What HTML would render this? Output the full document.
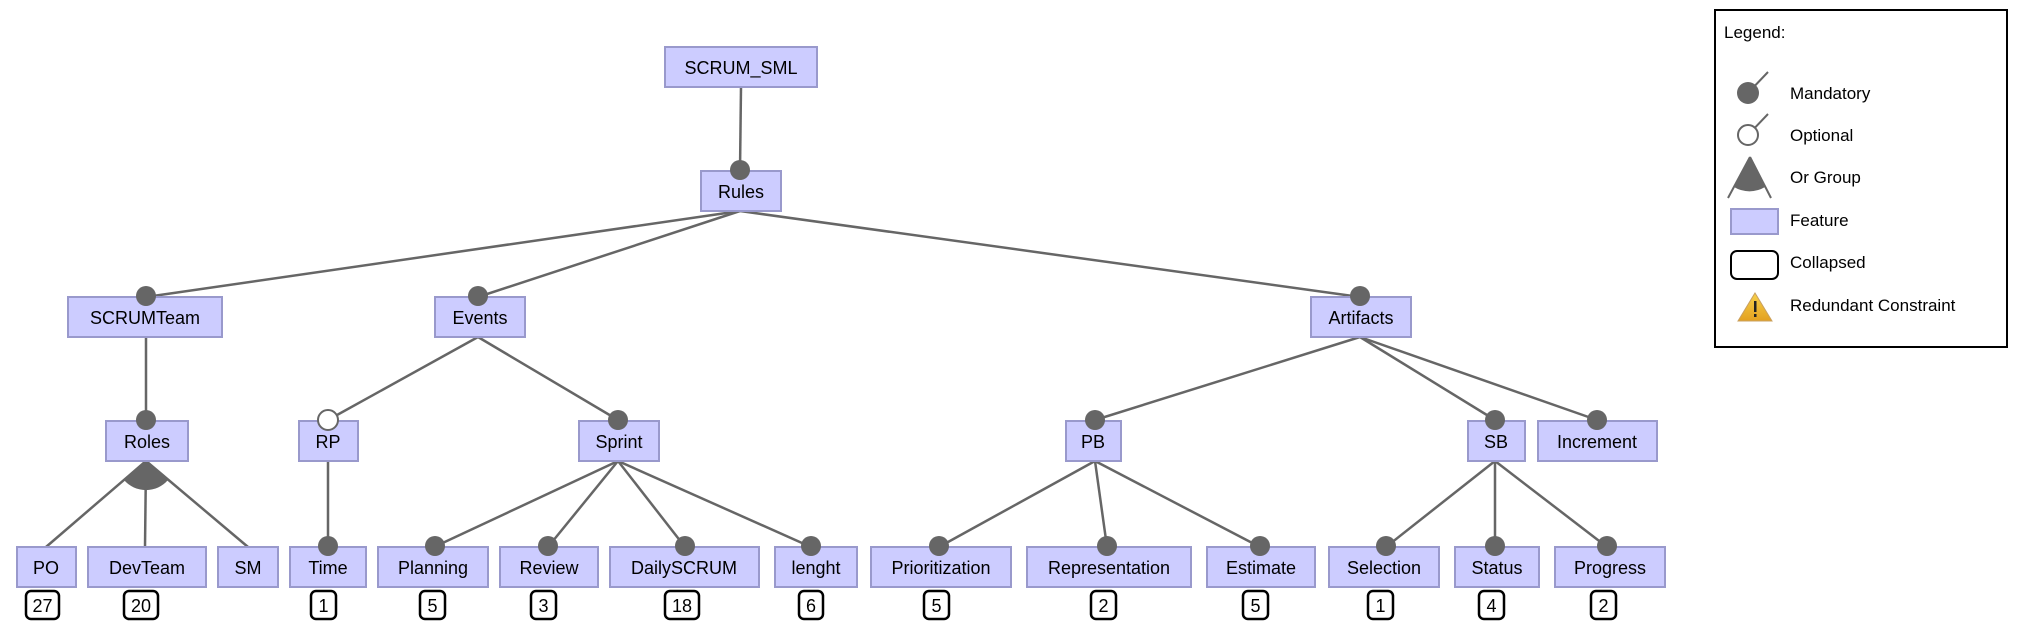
<!DOCTYPE html>
<html><head><meta charset="utf-8"><style>
html,body{margin:0;padding:0;background:#fff;}
svg{display:block;}
text{font-family:"Liberation Sans",Arial,sans-serif;fill:#000;}
</style></head><body>
<svg width="2022" height="638" viewBox="0 0 2022 638" xmlns="http://www.w3.org/2000/svg">
<g stroke="#666" stroke-width="2.5" fill="none">
<line x1="741" y1="87" x2="740" y2="171"/>
<line x1="740" y1="211" x2="146" y2="297"/>
<line x1="740" y1="211" x2="478" y2="297"/>
<line x1="740" y1="211" x2="1360" y2="297"/>
<line x1="146" y1="337" x2="146" y2="420"/>
<line x1="478" y1="337" x2="328" y2="420"/>
<line x1="478" y1="337" x2="618" y2="420"/>
<line x1="1360" y1="337" x2="1095" y2="420"/>
<line x1="1360" y1="337" x2="1495" y2="420"/>
<line x1="1360" y1="337" x2="1597" y2="420"/>
<line x1="146" y1="461" x2="46" y2="547"/>
<line x1="146" y1="461" x2="145" y2="547"/>
<line x1="146" y1="461" x2="248" y2="547"/>
<line x1="328" y1="461" x2="328" y2="547"/>
<line x1="618" y1="461" x2="434" y2="547"/>
<line x1="618" y1="461" x2="548" y2="547"/>
<line x1="618" y1="461" x2="685" y2="547"/>
<line x1="618" y1="461" x2="811" y2="547"/>
<line x1="1095" y1="461" x2="939" y2="547"/>
<line x1="1095" y1="461" x2="1107" y2="547"/>
<line x1="1095" y1="461" x2="1260" y2="547"/>
<line x1="1495" y1="461" x2="1386" y2="547"/>
<line x1="1495" y1="461" x2="1495" y2="547"/>
<line x1="1495" y1="461" x2="1607" y2="547"/>
</g>
<path d="M146,461 L124,480 A29,29 0 0 0 168,480 Z" fill="#666"/>
<g fill="#ccccff" stroke="#9999cc" stroke-width="2">
<rect x="665" y="47" width="152" height="40"/>
<rect x="701" y="171" width="80" height="40"/>
<rect x="68" y="297" width="154" height="40"/>
<rect x="435" y="297" width="90" height="40"/>
<rect x="1311" y="297" width="100" height="40"/>
<rect x="106" y="421" width="82" height="40"/>
<rect x="299" y="421" width="59" height="40"/>
<rect x="579" y="421" width="80" height="40"/>
<rect x="1066" y="421" width="55" height="40"/>
<rect x="1468" y="421" width="57" height="40"/>
<rect x="1538" y="421" width="119" height="40"/>
<rect x="17" y="547" width="59" height="40"/>
<rect x="88" y="547" width="118" height="40"/>
<rect x="218" y="547" width="60" height="40"/>
<rect x="290" y="547" width="76" height="40"/>
<rect x="378" y="547" width="110" height="40"/>
<rect x="500" y="547" width="98" height="40"/>
<rect x="610" y="547" width="149" height="40"/>
<rect x="775" y="547" width="82" height="40"/>
<rect x="871" y="547" width="140" height="40"/>
<rect x="1027" y="547" width="164" height="40"/>
<rect x="1207" y="547" width="108" height="40"/>
<rect x="1329" y="547" width="110" height="40"/>
<rect x="1455" y="547" width="84" height="40"/>
<rect x="1555" y="547" width="110" height="40"/>
</g>
<g fill="#666">
<circle cx="740" cy="170" r="10"/>
<circle cx="146" cy="296" r="10"/>
<circle cx="478" cy="296" r="10"/>
<circle cx="1360" cy="296" r="10"/>
<circle cx="146" cy="420" r="10"/>
<circle cx="618" cy="420" r="10"/>
<circle cx="1095" cy="420" r="10"/>
<circle cx="1495" cy="420" r="10"/>
<circle cx="1597" cy="420" r="10"/>
<circle cx="328" cy="546" r="10"/>
<circle cx="435" cy="546" r="10"/>
<circle cx="548" cy="546" r="10"/>
<circle cx="685" cy="546" r="10"/>
<circle cx="811" cy="546" r="10"/>
<circle cx="939" cy="546" r="10"/>
<circle cx="1107" cy="546" r="10"/>
<circle cx="1260" cy="546" r="10"/>
<circle cx="1386" cy="546" r="10"/>
<circle cx="1495" cy="546" r="10"/>
<circle cx="1607" cy="546" r="10"/>
</g>
<circle cx="328" cy="420" r="10" fill="#fff" stroke="#666" stroke-width="2"/>
<g font-size="18" text-anchor="middle">
<text x="741" y="74">SCRUM_SML</text>
<text x="741" y="198">Rules</text>
<text x="145" y="324">SCRUMTeam</text>
<text x="480" y="324">Events</text>
<text x="1361" y="324">Artifacts</text>
<text x="147" y="448">Roles</text>
<text x="328" y="448">RP</text>
<text x="619" y="448">Sprint</text>
<text x="1093" y="448">PB</text>
<text x="1496" y="448">SB</text>
<text x="1597" y="448">Increment</text>
<text x="46" y="574">PO</text>
<text x="147" y="574">DevTeam</text>
<text x="248" y="574">SM</text>
<text x="328" y="574">Time</text>
<text x="433" y="574">Planning</text>
<text x="549" y="574">Review</text>
<text x="684" y="574">DailySCRUM</text>
<text x="816" y="574">lenght</text>
<text x="941" y="574">Prioritization</text>
<text x="1109" y="574">Representation</text>
<text x="1261" y="574">Estimate</text>
<text x="1384" y="574">Selection</text>
<text x="1497" y="574">Status</text>
<text x="1610" y="574">Progress</text>
</g>
<g fill="#fff" stroke="#000" stroke-width="2.5">
<rect x="26" y="591" width="33" height="28" rx="5"/>
<rect x="124" y="591" width="34" height="28" rx="5"/>
<rect x="311" y="591" width="25" height="28" rx="5"/>
<rect x="420" y="591" width="25" height="28" rx="5"/>
<rect x="531" y="591" width="25" height="28" rx="5"/>
<rect x="665" y="591" width="34" height="28" rx="5"/>
<rect x="799" y="591" width="24" height="28" rx="5"/>
<rect x="924" y="591" width="25" height="28" rx="5"/>
<rect x="1091" y="591" width="25" height="28" rx="5"/>
<rect x="1243" y="591" width="25" height="28" rx="5"/>
<rect x="1368" y="591" width="25" height="28" rx="5"/>
<rect x="1479" y="591" width="25" height="28" rx="5"/>
<rect x="1591" y="591" width="25" height="28" rx="5"/>
</g>
<g font-size="18" text-anchor="middle">
<text x="42.5" y="612">27</text>
<text x="141" y="612">20</text>
<text x="323.5" y="612">1</text>
<text x="432.5" y="612">5</text>
<text x="543.5" y="612">3</text>
<text x="682" y="612">18</text>
<text x="811" y="612">6</text>
<text x="936.5" y="612">5</text>
<text x="1103.5" y="612">2</text>
<text x="1255.5" y="612">5</text>
<text x="1380.5" y="612">1</text>
<text x="1491.5" y="612">4</text>
<text x="1603.5" y="612">2</text>
</g>
<!-- Legend -->
<rect x="1715" y="10" width="292" height="337" fill="#fff" stroke="#000" stroke-width="2"/>
<g font-size="17">
<text x="1724" y="38">Legend:</text>
<text x="1790" y="99">Mandatory</text>
<text x="1790" y="141">Optional</text>
<text x="1790" y="183">Or Group</text>
<text x="1790" y="226">Feature</text>
<text x="1790" y="268">Collapsed</text>
<text x="1790" y="311">Redundant Constraint</text>
</g>
<line x1="1748" y1="93" x2="1768" y2="72" stroke="#666" stroke-width="2"/>
<circle cx="1748" cy="93" r="11" fill="#666"/>
<line x1="1748" y1="135" x2="1768" y2="114" stroke="#666" stroke-width="2"/>
<circle cx="1748" cy="135" r="10" fill="#fff" stroke="#666" stroke-width="2"/>
<line x1="1750" y1="157" x2="1728" y2="198" stroke="#666" stroke-width="2"/>
<line x1="1750" y1="157" x2="1771" y2="198" stroke="#666" stroke-width="2"/>
<path d="M1750,157 L1734,187 A30,30 0 0 0 1765,187 Z" fill="#666"/>
<rect x="1731" y="209" width="47" height="25" fill="#ccccff" stroke="#9999cc" stroke-width="2"/>
<rect x="1731" y="251" width="47" height="28" rx="6" fill="#fff" stroke="#000" stroke-width="2"/>
<defs><linearGradient id="wg" x1="0" y1="0" x2="0" y2="1"><stop offset="0" stop-color="#f7d14a"/><stop offset="1" stop-color="#e3a020"/></linearGradient></defs>
<path d="M1755,293 L1772,321 L1738,321 Z" fill="url(#wg)" stroke="#c9a060" stroke-width="1"/>
<rect x="1754" y="301" width="2.5" height="11" fill="#222"/>
<rect x="1754" y="314" width="2.5" height="3" fill="#222"/>
</svg>
</body></html>
